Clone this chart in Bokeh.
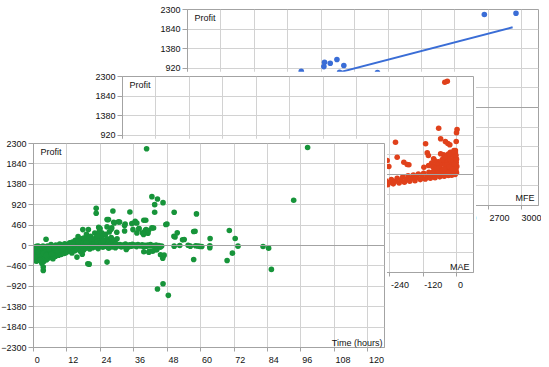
from bokeh.plotting import figure
from bokeh.models import Range1d, FixedTicker, Label, Span
from bokeh.layouts import column
from bokeh.embed import file_html
from bokeh.resources import INLINE

# ---------------- data ----------------
profit_ticks = [-2300, -1840, -1380, -920, -460, 0, 460, 920, 1380, 1840, 2300]

# Back panel: MFE vs Profit (blue) + trend line
mfe_ticks = [0, 300, 600, 900, 1200, 1500, 1800, 2100, 2400, 2700, 3000]
mfe = [2664, 2948, 1021, 1224, 1230, 1281, 1341, 1403, 1365, 1705,
       100, 200, 300, 400, 500, 600, 700, 800, 900, 150, 250, 50, 350, 450,
       550, 650, 750, 850, 950, 1100, 1500, 1200, 80, 120, 180, 230, 320, 380]
mfe_profit = [2182, 2213, 850, 960, 1062, 1038, 1125, 984, 827, 820,
              -50, 50, 120, 200, 260, 350, 420, 500, 600, -200, -100, -300, -20, 100,
              180, 300, 380, 460, 560, 700, 600, 650, -150, 30, -80, 90, 210, 150]
trend_mfe = [0, 2918]
trend_profit = [-100, 1884]

# Middle panel: MAE vs Profit (red)
mae_ticks = [-1200, -1080, -960, -840, -720, -600, -480, -360, -240, -120, 0]
mae = [-34, -43, -65, 1, -1, -58, -41, -32, -25, -2, -220, -112, -106, -214, -190, -172, -244,
       -58, -47, -23, -5, -11, -83, -101, -118, -70, -34, -17, -102, -250, -178,
       -1050, -980, -900, -850, -780, -720, -680, -620, -580, -540, -500, -470, -440, -410,
       -380, -350, -330, -310, -290, -275, -265, -255, -248, -240, -235, -228, -220, -214,
       -207, -200, -194, -188, -181, -175, -169, -162, -156, -150, -144, -138, -131, -125,
       -119, -113, -106, -100, -95, -89, -84, -78, -72, -67, -61, -56, -50, -45, -40, -35,
       -30, -26, -22, -18, -14, -10, -6, -3, 0, -1, -4,
       -60, -55, -48, -42, -38, -33, -28, -24, -20, -16, -12, -8, -5, -2, -1, -3, -10, -18,
       -30, -44, -52, -66, -72, -80, -90, -86, -75, -64, -36, -27, -15, -9, -7, -53, -46]
mae_profit = [2190, 2166, 1087, 1056, 979, 838, 774, 727, 697, 774, 758, 720, 509, 406, 289, 228, 188,
              486, 462, 523, 563, 446, 368, 211, 171, 289, 329, 289, 446, 329, 235,
              -1040, -950, -880, -800, -760, -650, -670, -560, -570, -480, -490, -420, -430, -350,
              -370, -300, -320, -250, -280, -200, -255, -150, -240, -180, -120, -220, -160, -90,
              -200, -140, -60, -180, -110, -30, -160, -90, -10, -145, -70, 10, -120, -50,
              30, -105, -40, 50, -90, -20, 70, -75, 0, 90, -55, 20, 110, -40, 40, 130,
              -25, 60, 150, -15, 80, 170, 0, 100, 190, 40, 140,
              200, 260, 320, 230, 380, 290, 420, 350, 250, 470, 310, 400, 520, 280, 360, 450, 560, 200,
              480, 410, 350, 300, 240, 330, 270, 180, 150, 160, 220, 180, 120, 240, 60, 90, 130]

# Front panel: Time (hours) vs Profit (green)
time_ticks = [0, 12, 24, 36, 48, 60, 72, 84, 96, 108, 120]
hours = [40.6, 98.4, 93.4, 42.5, 44.5, 43.5, 46.5, 43.5, 22.5, 22.5, 28.5, 34.6, 50.5, 58.5,
         26.4, 28.8, 30.5, 23.4, 23.7, 26.4, 28.1, 32.7, 35.3, 36.4, 39.6, 40.3, 42.5, 47.5,
         37.8, 39.1, 40.1, 41.1, 50.4, 51.6, 53.5, 57.5, 63.4, 70.3, 72.4, 73.4, 82.4, 84.4,
         85.4, 69.5, 71.4, 57.5, 63.3, 63.3, 60.4, 56.3, 58.2, 59.0, 59.6, 55.5, 52.5, 50.5,
         46.4, 45.6, 44.5, 46.5, 48.4, 39.6, 41.4, 44.0, 33.3, 19.5, 26.4, 15.6, 17.5, 4.5,
         3.5, 3.5, 1.2,
         26.9, 29.0, 30.9, 32.9, 36.5, 37.1, 43.1, 47.9, 37.9, 35.7, 40.4, 41.3, 32.7, 29.9,
         27.2, 24.5, 23.9, 17.7, 19.7, 27.8, 37.1, 39.5, 58.0, 54.1, 41.6, 42.8, 44.3, 46.9,
         20.0, 50.8,
         0.3, 0.4, 0.5, 0.6, 0.7, 0.8, 0.9, 1.0, 1.1, 1.2, 1.3, 1.4, 1.5, 1.6, 1.7, 1.8, 1.9,
         2.0, 2.1, 2.2, 2.3, 2.4, 2.5, 2.6, 2.7, 2.8, 2.9, 3.0, 3.1, 3.2, 3.3, 3.4, 3.5, 3.6,
         3.7, 3.8, 3.9, 4.0,
         4.2, 4.4, 4.5, 4.7, 4.8, 5.0, 5.1, 5.3, 5.5, 5.6, 5.8, 6.0, 6.1, 6.3, 6.5, 6.6, 6.8,
         7.0, 7.1, 7.3, 7.5, 7.7, 7.9, 8.0,
         8.2, 8.4, 8.6, 8.8, 9.0, 9.2, 9.4, 9.6, 9.8, 10.0, 10.2, 10.4, 10.6, 10.8, 11.0, 11.2,
         11.4, 11.6, 11.8, 12.0,
         12.3, 12.5, 12.8, 13.0, 13.2, 13.5, 13.8, 14.0, 14.2, 14.5, 14.8, 15.0, 15.2, 15.5,
         15.8, 16.0, 16.2, 16.5, 16.8, 17.0, 17.2, 17.5, 17.8, 18.0,
         18.3, 18.5, 18.8, 19.0, 19.2, 19.5, 19.8, 20.0, 20.2, 20.5, 20.8, 21.0, 21.2, 21.5,
         21.8, 22.0, 22.2, 22.5, 22.8, 23.0, 23.2, 23.5, 23.8, 24.0,
         24.3, 24.6, 24.9, 25.2, 25.5, 25.8, 26.1, 26.4, 26.7, 27.0, 27.3, 27.6, 27.9, 28.2,
         28.5, 28.8, 29.1, 29.4, 29.7, 30.0,
         30.5, 31.0, 31.5, 32.0, 32.5, 33.0, 33.5, 34.0, 34.5, 35.0, 35.5, 36.0, 36.5, 37.0,
         37.5, 38.0, 38.5, 39.0, 39.5, 40.0, 40.5, 41.0, 41.5, 42.0, 42.5, 43.0, 43.5, 44.0,
         44.5, 45.0, 45.5, 46.0,
         1.0, 2.0, 3.0, 4.0, 5.0, 6.0, 7.0, 8.0, 9.0, 10.0, 11.0, 0.5, 1.5, 2.5, 3.5, 4.5,
         5.5, 6.5, 7.5, 8.5, 9.5, 10.5, 13.0, 14.0, 16.0, 18.0, 19.0, 21.0, 23.0, 25.0]
hours_profit = [2180, 2210, 1019, 1101, 1049, 921, 966, 749, 839, 727, 779, 756, 749, 712,
                584, 524, 532, 412, 375, 419, 397, 449, 494, 517, 569, 569, 397, 472,
                375, 285, 337, 277, 210, 285, 127, 315, 157, 337, 157, -15, -22, -60,
                -539, -337, -172, -315, -7, -52, -22, -15, -7, -10, -20, 7, 0, -15,
                -285, -210, -981, -861, -1124, -142, -150, -97, -90, -412, -374, -262, -195, 142,
                -562, -487, -352,
                584, 508, 530, 486, 546, 508, 396, 486, 382, 359, 359, 337, 328, 299,
                306, 284, 382, 359, 359, 359, 284, 247, 321, 135, -128, -128, -90, -218,
                -420, 193,
                -120, -250, -40, -310, -180, -90, -350, -210, -20, -140, -280, -60, -330, -170, -10, -230, -100,
                -300, -150, -50, -260, -190, -80, -340, -120, -30, -220, -400, -160, -70, -290, -10, -200, -110,
                -360, -240, -40, -130,
                -270, -60, -190, -320, -100, -10, -230, -150, -280, -50, -180, -110, -250, 20, -140, -210, -70,
                -300, -160, -30, -200, -120, -240, 10,
                -180, -90, -150, -40, -220, -120, 30, -170, -60, -200, -100, 0, -150, -50, -180, 40,
                -120, -20, -160, -80,
                20, -130, -40, 60, -110, -10, -170, 80, -60, 30, -120, 120, -20, -90,
                50, 200, -60, 100, -130, 0, 150, -40, 60, -100,
                120, 30, -60, 250, 80, -20, 160, 40, -80, 210, 100, 0, -50, 140,
                60, 280, -30, 180, 20, 90, -70, 300, 130, -10,
                70, 200, -40, 110, 30, 250, -20, 150, 60, -60, 100, 20, 180, -30,
                80, 0, 120, -50, 40, 150,
                -10, 20, -30, 10, -20, 30, 0, -40, 15, -15, 25, -5, 10, -25,
                20, 0, -10, 15, -20, 5, -15, 10, -5, 20, -10, 0, -30, 10,
                -20, 0, -40, -10,
                -60, -200, -300, -160, -240, -90, -170, -60, -130, -90, -40, -260, -140, -330, -180, -220,
                -80, -190, -50, -120, -30, -70, -30, 40, 90, 170, 60, 150, 220, 110]

FONT = "Liberation Sans"
GRID = "#d2d2d2"
EDGE = "#a3a3a3"
B_LEFT = 57   # the column aligns left/right borders, so they are shared
B_RIGHT = 3
FRAME_W = 351
NBSP = "\u00a0"


def left_aligned(t):
    # the axis centres its labels; leading no-break spaces as wide as the label
    # push the visible text so that it starts just right of its tick
    s = str(t)
    n = 2 * sum(c.isdigit() for c in s) + (1 if s.startswith("-") else 0) + 1
    return NBSP * n + s


def panel(xr, xticks, xname, xs, ys, color, frame_h, b_top, b_bottom, margin, name_dx, name_dy):
    p = figure(width=B_LEFT + FRAME_W + B_RIGHT, height=b_top + frame_h + b_bottom,
               x_range=Range1d(*xr), y_range=Range1d(-2300, 2300),
               output_backend="svg", toolbar_location=None,
               min_border_left=B_LEFT, min_border_right=B_RIGHT,
               min_border_top=b_top, min_border_bottom=b_bottom,
               background_fill_color="white", border_fill_color="white",
               outline_line_color=EDGE, outline_line_width=1, margin=margin)
    p.xaxis.ticker = FixedTicker(ticks=xticks)
    p.yaxis.ticker = FixedTicker(ticks=profit_ticks)
    p.xgrid.ticker = FixedTicker(ticks=xticks)
    p.ygrid.ticker = FixedTicker(ticks=profit_ticks)
    p.xaxis.major_label_overrides = {t: left_aligned(t) for t in xticks}
    p.grid.grid_line_color = GRID
    p.grid.grid_line_width = 1
    for ax in (p.xaxis, p.yaxis):
        ax.axis_line_color = EDGE
        ax.major_tick_line_color = EDGE
        ax.minor_tick_line_color = None
        ax.major_tick_in = 0
        ax.major_label_text_font = FONT
        ax.major_label_text_font_size = "9px"
        ax.major_label_text_color = "#111111"
    p.yaxis.major_tick_out = 5
    p.yaxis.major_label_standoff = 2
    p.xaxis.major_tick_out = 4
    p.xaxis.major_label_standoff = 3
    p.add_layout(Span(location=0, dimension="width", line_color=EDGE, line_width=1))
    p.scatter(xs, ys, size=5.6, color=color, line_width=0)
    p.add_layout(Label(x=xr[0], y=2300, x_offset=7, y_offset=-3, text="Profit",
                       text_baseline="top", text_font=FONT, text_font_size="9px",
                       text_color="#111111"))
    p.add_layout(Label(x=xr[1], y=-2300, x_offset=name_dx, y_offset=name_dy, text=xname,
                       text_align="right", text_baseline="alphabetic", text_font=FONT,
                       text_font_size="9px", text_color="#111111"))
    return p


back = panel((0, 3150), mfe_ticks, "MFE", mfe, mfe_profit, "#3a6dd6",
             196, 9, 20, (0, 0, 0, 130), -4, 8)
back.line(trend_mfe, trend_profit, line_color="#3a6dd6", line_width=2)

middle = panel((-1200, 60), mae_ticks, "MAE", mae, mae_profit, "#e0411b",
               196, 5, 20, (-154, 0, 0, 65), -4, 6)

front = panel((0, 126), time_ticks, "Time (hours)", hours, hours_profit, "#17943a",
              205, 5, 19, (-154, 0, 0, -24), -2, 5)

layout = column(back, middle, front)
open("out.html", "w").write(file_html(layout, INLINE))
